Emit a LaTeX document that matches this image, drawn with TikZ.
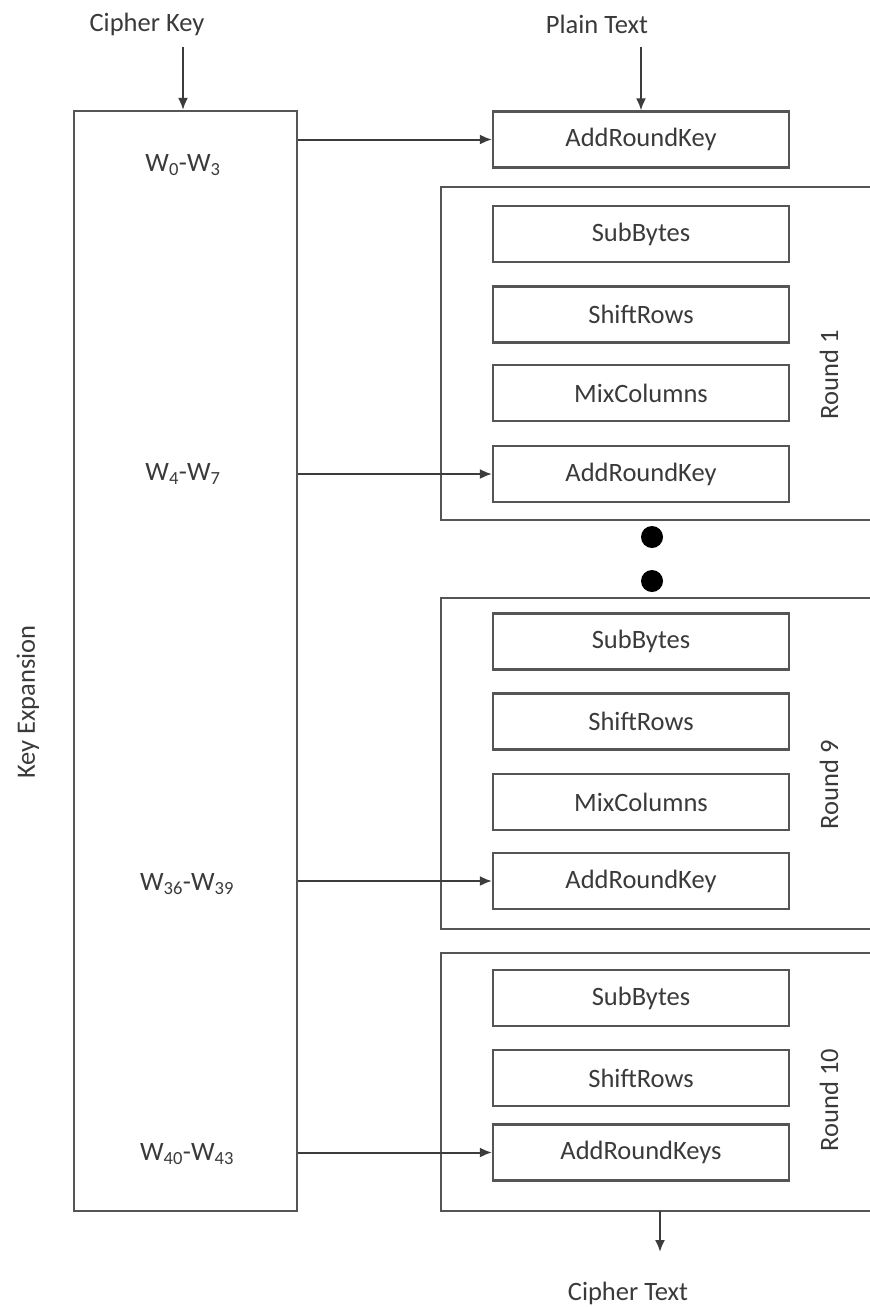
\documentclass[tikz,border=0pt]{standalone}
\usepackage{fontspec}
\setmainfont{Carlito}
\usetikzlibrary{arrows.meta,calc}
\definecolor{ln}{HTML}{555555}
\definecolor{tx}{HTML}{3a3a3a}
\tikzset{
  op/.style={draw=ln,line width=2.2pt,minimum width=296pt,minimum height=56pt,inner sep=0pt,text=tx,font=\fontsize{26.5}{30}\selectfont},
  lbl/.style={text=tx,font=\fontsize{26.5}{30}\selectfont,inner sep=0pt},
  frame/.style={draw=ln,line width=2.2pt},
  arr/.style={draw=ln!70!black,line width=2pt,-{Latex[length=12pt,width=10pt]}},
  dotc/.style={circle,fill=black,minimum size=22pt,inner sep=0pt}
}
\begin{document}
\begin{tikzpicture}[x=1pt,y=-1pt]
\useasboundingbox (0,0) rectangle (870,1307);
% Key expansion
\node[frame,minimum width=223pt,minimum height=1100pt,inner sep=0pt] (key) at (185.5,661) {};
\node[lbl,rotate=90] (kexp) at (28,702) {Key Expansion};
\node[lbl] (ck) at (147,24) {Cipher Key};
\node[lbl] (pt) at (597,24) {Plain Text};
\node[lbl] (ct) at (628,1293) {Cipher Text};
% W labels
\node[lbl] (w0) at (183,165) {W\textsubscript{0}-W\textsubscript{3}};
\node[lbl] (w4) at (183,474) {W\textsubscript{4}-W\textsubscript{7}};
\node[lbl] (w36) at (187,884) {W\textsubscript{36}-W\textsubscript{39}};
\node[lbl] (w40) at (187,1154) {W\textsubscript{40}-W\textsubscript{43}};
% round frames (open on right)
\coordinate (r1a) at (870,187); \coordinate (r1b) at (441,187); \coordinate (r1c) at (441,520); \coordinate (r1d) at (870,520);
\draw[frame] (r1a) -- (r1b) -- (r1c) -- (r1d);
\coordinate (r9a) at (870,598); \coordinate (r9b) at (441,598); \coordinate (r9c) at (441,929); \coordinate (r9d) at (870,929);
\draw[frame] (r9a) -- (r9b) -- (r9c) -- (r9d);
\coordinate (r10a) at (870,953); \coordinate (r10b) at (441,953); \coordinate (r10c) at (441,1211); \coordinate (r10d) at (870,1211);
\draw[frame] (r10a) -- (r10b) -- (r10c) -- (r10d);
% operations
\node[op] (ark0) at (641,139.5) {AddRoundKey};
\node[op] (sb1) at (641,234) {SubBytes};
\node[op] (sr1) at (641,314.5) {ShiftRows};
\node[op] (mc1) at (641,393) {MixColumns};
\node[op] (ark1) at (641,474) {AddRoundKey};
\node[op] (sb9) at (641,641.5) {SubBytes};
\node[op] (sr9) at (641,721.5) {ShiftRows};
\node[op] (mc9) at (641,802) {MixColumns};
\node[op] (ark9) at (641,881) {AddRoundKey};
\node[op] (sb10) at (641,998) {SubBytes};
\node[op] (sr10) at (641,1078) {ShiftRows};
\node[op] (ark10) at (641,1152.5) {AddRoundKeys};
% round labels
\node[lbl,rotate=90] (rl1) at (829,375) {Round 1};
\node[lbl,rotate=90] (rl9) at (829,785) {Round 9};
\node[lbl,rotate=90] (rl10) at (829,1100) {Round 10};
% dots
\node[dotc] (d1) at (652,537) {};
\node[dotc] (d2) at (652,581) {};
% arrows
\coordinate (ckb) at (183,47);
\draw[arr] (ckb) -- (ckb |- key.north);
\coordinate (ptb) at (641,47);
\draw[arr] (ptb) -- (ark0.north);
\coordinate (cto) at (660,1211);
\coordinate (cte) at (660,1252);
\draw[arr] (cto) -- (cte);
\draw[arr] (key.east |- ark0.west) -- (ark0.west);
\draw[arr] (key.east |- ark1.west) -- (ark1.west);
\draw[arr] (key.east |- ark9.west) -- (ark9.west);
\draw[arr] (key.east |- ark10.west) -- (ark10.west);
\end{tikzpicture}
\end{document}
